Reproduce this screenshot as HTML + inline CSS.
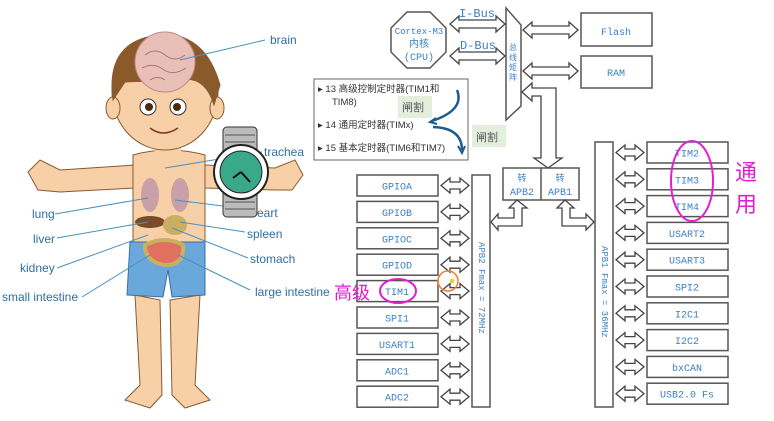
<!DOCTYPE html>
<html><head><meta charset="utf-8">
<style>
html,body{margin:0;padding:0;background:#fff;width:774px;height:421px;overflow:hidden}
svg{display:block}
.lb{font-family:"Liberation Sans",sans-serif;font-size:12px;fill:#2f6ea5}
.bx{fill:#fff;stroke:#555;stroke-width:1.5}
.bt{font-family:"Liberation Mono","Noto Sans CJK SC",monospace;font-size:10px;fill:#3a7fc4;text-anchor:middle}
.lg{font-family:"Liberation Sans","Noto Sans CJK SC",sans-serif;font-size:9.5px;fill:#333}
.ar{fill:#fff;stroke:#444;stroke-width:1.3}
</style></head><body>
<svg id="s" width="774" height="421" viewBox="0 0 774 421" xmlns="http://www.w3.org/2000/svg">
<g stroke="#8a5a30" stroke-width="1">
<path d="M135 295 L140 385 L125 400 L150 408 L162 395 L160 300 Z" fill="#f7d0a8"/>
<path d="M170 300 L172 395 L185 408 L210 400 L195 385 L200 295 Z" fill="#f7d0a8"/>
<path d="M135 165 L60 170 L40 160 L28 172 L38 190 L60 192 L135 188 Z" fill="#f7d0a8"/>
<path d="M205 165 L275 168 L295 160 L303 175 L292 190 L275 190 L205 188 Z" fill="#f7d0a8"/>
<path d="M133 155 Q168 145 205 155 L205 250 L133 250 Z" fill="#f7d0a8"/>
<rect x="155" y="135" width="26" height="25" fill="#f7d0a8" stroke="none"/>
<path d="M130 242 L205 242 L205 295 L172 297 L168 270 L163 297 L127 295 Z" fill="#6aa8dc" stroke="#3a6fa0"/>
<ellipse cx="165" cy="92" rx="53" ry="58" fill="#f7d0a8"/>
<ellipse cx="113" cy="108" rx="7" ry="11" fill="#f7d0a8"/>
<ellipse cx="217" cy="108" rx="7" ry="11" fill="#f7d0a8"/>
<path d="M113 100 Q105 40 160 35 Q205 32 220 85 L214 105 Q205 75 180 80 L125 82 Z" fill="#8b5a2b"/>
</g>
<circle cx="165" cy="62" r="30" fill="#e8c0b8" stroke="#c08a8a"/>
<path d="M145 55 q10 -8 20 0 q10 8 20 0 M142 68 q12 -6 22 2 q10 6 22 -2 M150 80 q8 -5 15 0" stroke="#b07080" fill="none"/>
<circle cx="148" cy="107" r="8" fill="#fff" stroke="#333"/><circle cx="149" cy="107" r="4" fill="#4a2a10"/>
<circle cx="178" cy="107" r="8" fill="#fff" stroke="#333"/><circle cx="177" cy="107" r="4" fill="#4a2a10"/>
<path d="M150 128 Q163 138 178 128" stroke="#7a3a20" fill="none" stroke-width="1.5"/>
<ellipse cx="150" cy="195" rx="9" ry="17" fill="#c9a0a8"/>
<ellipse cx="180" cy="195" rx="9" ry="17" fill="#c9a0a8"/>
<ellipse cx="150" cy="222" rx="15" ry="6" fill="#7a4a2a"/>
<ellipse cx="175" cy="225" rx="12" ry="10" fill="#c9b060"/>
<path d="M145 245 Q165 235 183 245 Q185 265 165 265 Q145 262 145 245 Z" fill="#e07060" stroke="#c9b060" stroke-width="4"/>
<g stroke="#4a90c0" stroke-width="1">
<line x1="180" y1="60" x2="265" y2="40"/>
<line x1="165" y1="168" x2="262" y2="152"/>
<line x1="55" y1="214" x2="148" y2="198"/>
<line x1="57" y1="238" x2="148" y2="222"/>
<line x1="57" y1="268" x2="148" y2="235"/>
<line x1="82" y1="297" x2="150" y2="255"/>
<line x1="175" y1="200" x2="255" y2="210"/>
<line x1="180" y1="222" x2="245" y2="232"/>
<line x1="172" y1="228" x2="248" y2="258"/>
<line x1="178" y1="255" x2="250" y2="290"/>
</g>
<rect x="223" y="127" width="34" height="90" rx="4" fill="#bbb" stroke="#333"/>
<path d="M225 135 h30 M225 142 h30 M225 149 h30 M225 195 h30 M225 202 h30 M225 209 h30" stroke="#555"/>
<circle cx="241" cy="172" r="27" fill="#fff" stroke="#222" stroke-width="2"/>
<circle cx="241" cy="172" r="21" fill="#3aa88a" stroke="#222"/>
<path d="M241 172 L233 178 M241 172 L250 182" stroke="#111" stroke-width="2"/>
<text class="lb" x="270" y="44">brain</text>
<text class="lb" x="264" y="156">trachea</text>
<text class="lb" x="32" y="218">lung</text>
<text class="lb" x="33" y="243">liver</text>
<text class="lb" x="20" y="272">kidney</text>
<text class="lb" x="2" y="301">small intestine</text>
<text class="lb" x="257" y="217">eart</text>
<text class="lb" x="247" y="238">spleen</text>
<text class="lb" x="250" y="263">stomach</text>
<text class="lb" x="255" y="296">large intestine</text>

<polygon points="407,12 430,12 446,28 446,52 430,68 407,68 391,52 391,28" fill="#fff" stroke="#555" stroke-width="1.5"/>
<text class="bt" x="419" y="34" style="font-size:9px">Cortex-M3</text>
<text class="bt" x="419" y="47">内核</text>
<text class="bt" x="419" y="60">(CPU)</text>
<text class="bt" x="477" y="17" style="font-size:12px">I-Bus</text>
<text class="bt" x="478" y="49" style="font-size:12px">D-Bus</text>
<polygon points="506,8 521,25 521,106 506,120" fill="#fff" stroke="#555" stroke-width="1.5"/>
<text class="bt" x="513" y="50" style="font-size:8px">总</text><text class="bt" x="513" y="60" style="font-size:8px">线</text><text class="bt" x="513" y="70" style="font-size:8px">矩</text><text class="bt" x="513" y="80" style="font-size:8px">阵</text>
<rect class="bx" x="581" y="13" width="71" height="33"/><text class="bt" x="616" y="35">Flash</text>
<rect class="bx" x="581" y="56" width="71" height="32"/><text class="bt" x="616" y="76">RAM</text>
<text class="bt" transform="translate(545,102) rotate(90)" style="text-anchor:start;font-size:9px">AHB 72Mmax</text>
<rect x="314" y="79" width="154" height="81" fill="#fff" stroke="#666"/>
<text class="lg" x="318" y="92">▸ 13 高级控制定时器(TIM1和</text>
<text class="lg" x="332" y="105">TIM8)</text>
<text class="lg" x="318" y="128">▸ 14 通用定时器(TIMx)</text>
<text class="lg" x="318" y="151">▸ 15 基本定时器(TIM6和TIM7)</text>
<rect x="398" y="96" width="34" height="22" fill="#e4eedd"/><text class="lg" x="402" y="111" style="fill:#555;font-size:11px">闸割</text>
<rect x="472" y="125" width="34" height="22" fill="#e4eedd"/><text class="lg" x="476" y="141" style="fill:#555;font-size:11px">闸割</text>
<path d="M457 90 Q465 110 432 121" stroke="#1f5a90" stroke-width="2.5" fill="none"/>
<path d="M436 118 L430 122 L437 124" stroke="#1f5a90" stroke-width="2" fill="none"/>
<path d="M433 127 Q462 128 462 150" stroke="#1f5a90" stroke-width="2.5" fill="none"/>
<path d="M458 146 L462 153 L465 146" stroke="#1f5a90" stroke-width="2" fill="none"/>
<rect class="bx" x="503" y="168" width="76" height="32"/>
<line x1="541" y1="168" x2="541" y2="200" stroke="#555" stroke-width="1.5"/>
<text class="bt" x="522" y="181" style="font-size:9px">转</text><text class="bt" x="522" y="195">APB2</text>
<text class="bt" x="560" y="181" style="font-size:9px">转</text><text class="bt" x="560" y="195">APB1</text>
<rect class="bx" x="472" y="175" width="18" height="232"/>
<text class="bt" transform="translate(479,242) rotate(90)" style="text-anchor:start;font-size:9px">APB2 Fmax = 72MHz</text>
<rect class="bx" x="595" y="142" width="18" height="265"/>
<text class="bt" transform="translate(602,246) rotate(90)" style="text-anchor:start;font-size:9px">APB1 Fmax = 36MHz</text>
<g id="boxes"></g>
<g id="arrows"></g>
<ellipse cx="692" cy="181" rx="21" ry="40" fill="none" stroke="#e020d0" stroke-width="2"/>
<ellipse cx="398" cy="291" rx="18" ry="12" fill="none" stroke="#e020d0" stroke-width="2"/>
<circle cx="448" cy="281" r="10" fill="none" stroke="#f08030" stroke-width="1.5"/>
<circle cx="452" cy="281" r="2.5" fill="#f0d040"/>
<text x="735" y="180" style="font-family:'Noto Sans CJK SC',sans-serif;font-size:22px;fill:#e020d0">通</text>
<text x="735" y="212" style="font-family:'Noto Sans CJK SC',sans-serif;font-size:22px;fill:#e020d0">用</text>
<text x="334" y="299" style="font-family:'Noto Sans CJK SC',sans-serif;font-size:18px;fill:#e020d0">高级</text>
</svg>
<script>
var NS="http://www.w3.org/2000/svg";
function el(p,t,a,txt){var e=document.createElementNS(NS,t);for(var k in a)e.setAttribute(k,a[k]);if(txt)e.textContent=txt;p.appendChild(e);return e;}
var B=document.getElementById("boxes"),A=document.getElementById("arrows");
function harr(x1,x2,cy,s,h){s=s||4;h=h||8;var L=9;
 var p=[[x1,cy],[x1+L,cy-h],[x1+L,cy-s],[x2-L,cy-s],[x2-L,cy-h],[x2,cy],[x2-L,cy+h],[x2-L,cy+s],[x1+L,cy+s],[x1+L,cy+h]];
 el(A,"polygon",{points:p.map(function(q){return q.join(",")}).join(" "),"class":"ar"});}
var L=["GPIOA","GPIOB","GPIOC","GPIOD","TIM1","SPI1","USART1","ADC1","ADC2"];
L.forEach(function(n,i){var y=175+i*26.4;el(B,"rect",{x:357,y:y,width:81,height:21,"class":"bx"});el(B,"text",{x:397,y:y+14.5,"class":"bt"},n);harr(441,469,y+10.5,3.5,7.5);});
var R=["TIM2","TIM3","TIM4","USART2","USART3","SPI2","I2C1","I2C2","bxCAN","USB2.0 Fs"];
R.forEach(function(n,i){var y=142+i*26.8;el(B,"rect",{x:647,y:y,width:81,height:21,"class":"bx"});el(B,"text",{x:687,y:y+14.5,"class":"bt"},n);harr(616,644,y+10.5,3.5,7.5);});
harr(450,505,24,4,8);harr(450,505,56,4,8);harr(523,578,30,4,8);harr(523,578,71,4,8);
el(A,"polygon",{points:"522,92 532,83 532,88 556,88 556,158 562,158 548,168 534,158 541,158 541,96 532,96 532,101",fill:"#fff",stroke:"#444","stroke-width":1.3});
el(A,"polygon",{points:"517,200 509,208 514,208 514,218 498,218 498,214 491,222 498,230 498,226 522,226 522,208 527,208",fill:"#fff",stroke:"#444","stroke-width":1.3});
el(A,"polygon",{points:"565,200 557,208 562,208 562,226 586,226 586,230 594,222 586,214 586,218 570,218 570,208 574,208",fill:"#fff",stroke:"#444","stroke-width":1.3});
</script>
</body></html>
